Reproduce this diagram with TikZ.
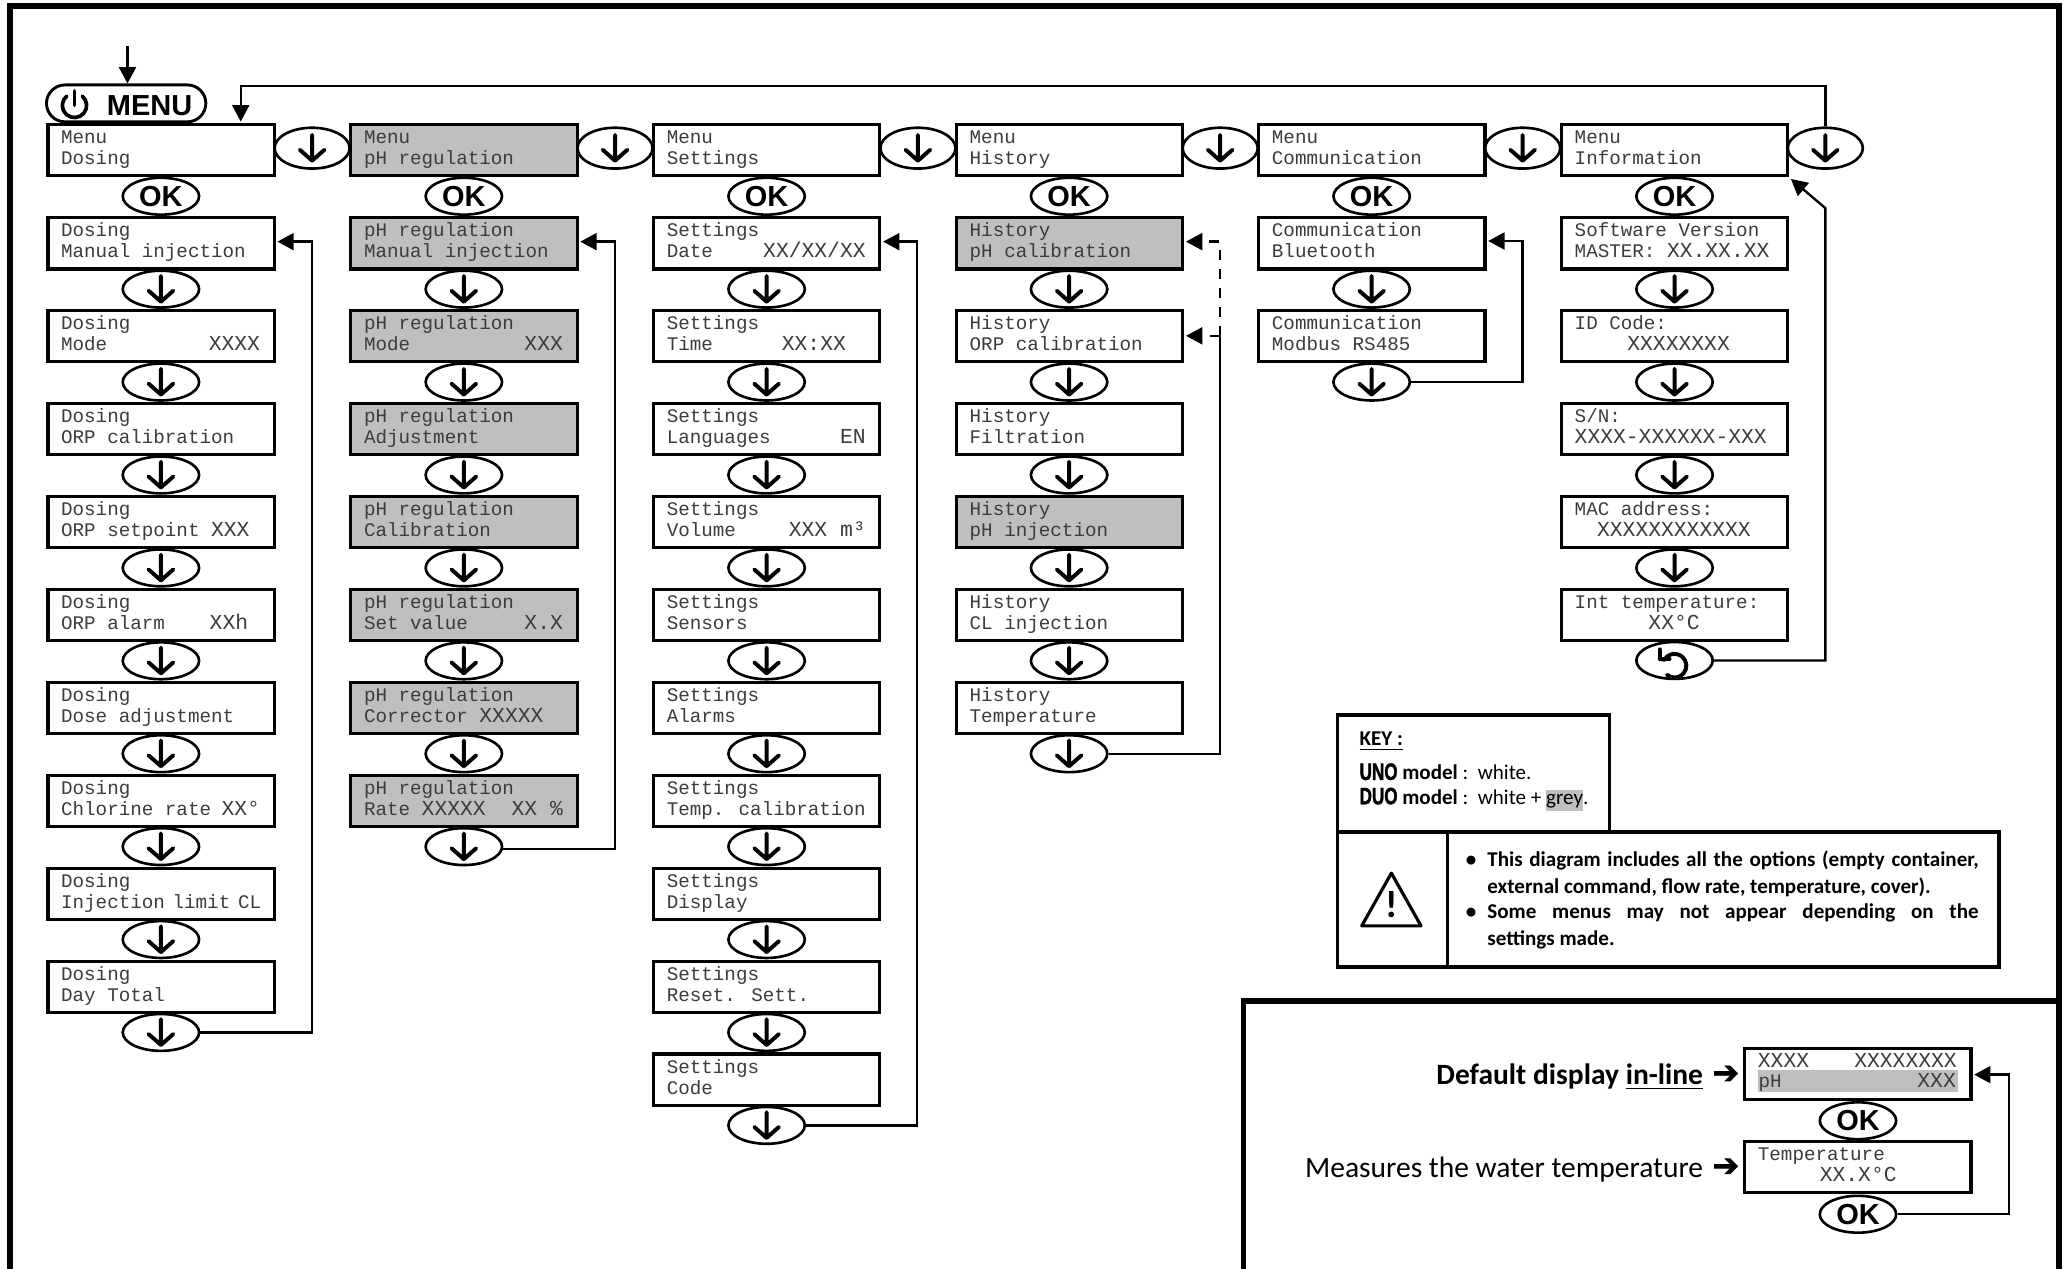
\documentclass[tikz,border=0pt]{standalone}
\usepackage{fontspec}
\usetikzlibrary{shapes.geometric,arrows.meta}
\setmainfont{Carlito}
\newfontfamily\lcdfam{Liberation Mono}
\newfontfamily\sansfam{Liberation Sans}
\newfontfamily\dejafam[FakeBold=2.5]{DejaVu Sans}
\newfontfamily\unofam[FakeStretch=0.72,FakeBold=1.5]{Liberation Sans}
\definecolor{lcdgrey}{HTML}{BFBFBF}
\definecolor{lcdink}{HTML}{3C3C3C}
\newcommand{\lcdfont}{\lcdfam\fontsize{7.3}{8}\selectfont}
\newcommand{\X}[1]{{\fontsize{8.1}{8}\selectfont #1}}
\newcommand{\lcdline}[2]{\hbox to 85.9pt{\rule{0pt}{#1}\hskip5pt\smash{\hbox to 75.5pt{#2\hskip 0pt plus 1fil}}\hfil}}
\newcommand{\lcdtext}[2]{\vbox to 19.4pt{\offinterlineskip\lcdline{7.2pt}{#1}\lcdline{8pt}{#2}\vss}}
\newcommand{\lcdbox}[6][]{\node[lcd,#1] (#2) at (#3-1.2,#4-1.2) {\lcdtext{#5}{#6}};}
\newcommand{\vbtn}[3]{\node[btnv] (#1) at (#2,#3) {};\draw[glyph,shift={(#2,#3)}] (0,-10) -- (0,9.5) (-9.4,1.2) -- (0,9.5) -- (9.4,1.2);}
\newcommand{\hbtn}[3]{\node[btnh] (#1) at (#2,#3) {};\draw[glyph,shift={(#2,#3)}] (0,-10) -- (0,9.5) (-9.4,1.2) -- (0,9.5) -- (9.4,1.2);}
\newcommand{\okbtn}[3]{\node[btnv,font=\sansfam\bfseries\fontsize{11}{11}\selectfont] (#1) at (#2,#3) {OK};}
\newcommand{\colbtns}[3]{\okbtn{#1ok}{#2}{149}\foreach \k in {1,...,#3}{\pgfmathsetmacro{\yy}{149+70.55*\k}\vbtn{#1b\k}{#2}{\yy}}}
\tikzset{
  x=0.5pt,y=-0.5pt,
  lcd/.style={draw=black,fill=white,line width=1.2pt,rectangle,anchor=north west,inner sep=0pt,outer sep=1.2pt,minimum width=85.9pt,minimum height=19.4pt,font=\lcdfont,text=lcdink},
  shade/.style={fill=lcdgrey},
  btnv/.style={draw=black,fill=white,line width=1pt,ellipse,inner sep=0pt,minimum width=29pt,minimum height=14pt},
  btnh/.style={btnv,minimum width=28.5pt,minimum height=15.5pt},
  glyph/.style={line width=1.5pt,line join=round,line cap=round},
  conn/.style={line width=0.9pt,line join=miter},
  tipped/.style={-{Triangle[length=6.2pt,width=6.4pt]}},
  dashline/.style={conn,dash pattern=on 3.8pt off 3.4pt},
  frameline/.style={line width=2.5pt,line join=miter},
  panelline/.style={line width=2pt,line join=miter},
  keybox/.style={draw=black,line width=1.4pt},
  note/.style={anchor=north west,inner sep=0pt,text width=186.5pt,align=justify,font=\bfseries\fontsize{8}{10}\selectfont},
  keytext/.style={anchor=west,inner sep=0pt,font=\fontsize{8}{10}\selectfont},
  bigtext/.style={anchor=east,inner sep=0pt,font=\fontsize{11.2}{13}\selectfont},
  arrowtext/.style={anchor=center,inner sep=0pt,font=\dejafam\fontsize{12}{12}\selectfont}
}
\begin{document}
\begin{tikzpicture}
\useasboundingbox (0,0) rectangle (1568,962.84);
% frame
\draw[frameline] (7.5,970) -- (7.5,4.7) -- (1563.5,4.7) -- (1563.5,970);
\draw[panelline] (944.3,970) -- (944.3,760) -- (1563.5,760);
% MENU
\node[draw=black,line width=1.1pt,rounded corners=7pt,minimum width=60.5pt,minimum height=14pt,inner sep=0pt] (menu) at (95.8,78.5) {};
\node[inner sep=0pt,font=\sansfam\bfseries\fontsize{11}{11}\selectfont] (menutext) at (113.6,80) {MENU};
\draw[line width=1.4pt,line cap=round] (56.6,69) -- (56.6,80);
\draw[line width=1.4pt,line cap=round] (62.5,73) arc[start angle=-50,end angle=230,radius=9.2];
\coordinate (entry) at (96.8,35);
\draw[conn,tipped] (entry) -- (entry |- menu.north);
% column a
\lcdbox{a0}{35.2}{93.5}{Menu}{Dosing}
\lcdbox{a1}{35.2}{164.2}{Dosing}{Manual injection}
\lcdbox{a2}{35.2}{234.75}{Dosing}{Mode\hfill\X{XXXX}}
\lcdbox{a3}{35.2}{305.3}{Dosing}{ORP calibration}
\lcdbox{a4}{35.2}{375.85}{Dosing}{ORP setpoint \X{XXX}}
\lcdbox{a5}{35.2}{446.4}{Dosing}{ORP alarm\hfill\X{XXh}\hspace*{4.5pt}}
\lcdbox{a6}{35.2}{516.95}{Dosing}{Dose adjustment}
\lcdbox{a7}{35.2}{587.5}{Dosing}{Chlorine rate\hfill\X{XX°}}
\lcdbox{a8}{35.2}{658.05}{Dosing}{Injection limit CL}
\lcdbox{a9}{35.2}{728.6}{Dosing}{Day Total}
% column b
\lcdbox[shade]{b0}{265.2}{93.5}{Menu}{pH regulation}
\lcdbox[shade]{b1}{265.2}{164.2}{pH regulation}{Manual injection}
\lcdbox[shade]{b2}{265.2}{234.75}{pH regulation}{Mode\hfill\X{XXX}}
\lcdbox[shade]{b3}{265.2}{305.3}{pH regulation}{Adjustment}
\lcdbox[shade]{b4}{265.2}{375.85}{pH regulation}{Calibration}
\lcdbox[shade]{b5}{265.2}{446.4}{pH regulation}{Set value\hfill\X{X.X}}
\lcdbox[shade]{b6}{265.2}{516.95}{pH regulation}{Corrector \X{XXXXX}}
\lcdbox[shade]{b7}{265.2}{587.5}{pH regulation}{Rate \X{XXXXX}\hfill\X{XX \%}}
% column c
\lcdbox{c0}{495.1}{93.5}{Menu}{Settings}
\lcdbox{c1}{495.1}{164.2}{Settings}{Date\hfill\X{XX/XX/XX}}
\lcdbox{c2}{495.1}{234.75}{Settings}{Time\hfill\X{XX:XX}\hspace*{7.5pt}}
\lcdbox{c3}{495.1}{305.3}{Settings}{Languages\hfill\X{EN}}
\lcdbox{c4}{495.1}{375.85}{Settings}{Volume\hfill\X{XXX m³}}
\lcdbox{c5}{495.1}{446.4}{Settings}{Sensors}
\lcdbox{c6}{495.1}{516.95}{Settings}{Alarms}
\lcdbox{c7}{495.1}{587.5}{Settings}{Temp. calibration}
\lcdbox{c8}{495.1}{658.05}{Settings}{Display}
\lcdbox{c9}{495.1}{728.6}{Settings}{Reset. Sett.}
\lcdbox{c10}{495.1}{799.15}{Settings}{Code}
% column d
\lcdbox{d0}{725.1}{93.5}{Menu}{History}
\lcdbox[shade]{d1}{725.1}{164.2}{History}{pH calibration}
\lcdbox{d2}{725.1}{234.75}{History}{ORP calibration}
\lcdbox{d3}{725.1}{305.3}{History}{Filtration}
\lcdbox[shade]{d4}{725.1}{375.85}{History}{pH injection}
\lcdbox{d5}{725.1}{446.4}{History}{CL injection}
\lcdbox{d6}{725.1}{516.95}{History}{Temperature}
% column e
\lcdbox{e0}{954.6}{93.5}{Menu}{Communication}
\lcdbox{e1}{954.6}{164.2}{Communication}{Bluetooth}
\lcdbox{e2}{954.6}{234.75}{Communication}{Modbus RS485}
% column f
\lcdbox{f0}{1184.5}{93.5}{Menu}{Information}
\lcdbox{f1}{1184.5}{164.2}{Software Version}{MASTER: \X{XX.XX.XX}}
\lcdbox{f2}{1184.5}{234.75}{ID Code:}{\hspace*{20pt}\X{XXXXXXXX}}
\lcdbox{f3}{1184.5}{305.3}{S/N:}{\X{XXXX-XXXXXX-XXX}}
\lcdbox{f4}{1184.5}{375.85}{MAC address:}{\hspace*{8.5pt}\X{XXXXXXXXXXXX}}
\lcdbox{f5}{1184.5}{446.4}{Int temperature:}{\hspace*{28pt}\X{XX°C}}
% buttons below
\colbtns{a}{122.2}{9}
\colbtns{b}{352.2}{7}
\colbtns{c}{582.1}{10}
\colbtns{d}{811.8}{6}
\colbtns{e}{1041.5}{2}
\colbtns{f}{1271.5}{4}
\node[btnv] (fb5) at (1271.5,501.5) {};
\draw[glyph,shift={(1271.5,501.5)}] (-5.8,10.9) arc[start angle=130,end angle=-150,radius=9] -- (-11.4,-1.3);
\draw[glyph,shift={(1271.5,501.5)}] (-11.4,-8.4) -- (-11.4,-1.3) -- (-3.8,-1.3);
% buttons across
\hbtn{h1}{237}{112.5}
\hbtn{h2}{467}{112.5}
\hbtn{h3}{697}{112.5}
\hbtn{h4}{926.5}{112.5}
\hbtn{h5}{1156.2}{112.5}
\hbtn{h6}{1386}{112.5}
% return connectors
\coordinate (ka) at (237,183.5);
\draw[conn,tipped] (ab9.east) -| (ka) -- (a1.east |- ka);
\coordinate (kb) at (467,183.5);
\draw[conn,tipped] ([yshift=-1pt]bb7.east) -| (kb) -- (b1.east |- kb);
\coordinate (kc) at (696.5,183.5);
\draw[conn,tipped] (cb10.east) -| (kc) -- (c1.east |- kc);
\coordinate (kd) at (926.2,255);
\coordinate (kdtop) at (926.2,183.5);
\draw[conn] (db6.east) -| (kd);
\draw[dashline,tipped] (kd) -- (d2.east |- kd);
\draw[dashline,tipped] (kd) -- (kdtop) -- (d1.east |- kdtop);
\coordinate (ke) at (1156,183);
\draw[conn,tipped] (eb2.east) -| (ke) -- (e1.east |- ke);
\coordinate (kf) at (1386,158);
\draw[conn,tipped] (fb5.east) -| (kf) -- (f0.south east);
\coordinate (ktop) at (1386,65.2);
\coordinate (ktopl) at (182.8,65.2);
\draw[conn,tipped] (h6.north) -- (ktop) -- (ktopl) -- (ktopl |- a0.north);
% key
\draw[keybox] (1015.5,543) rectangle (1222,631.5);
\draw[keybox] (1015.5,631.5) rectangle (1518,734);
\draw[keybox] (1099,631.5) -- (1099,734);
\node[keytext] (keyhead) at (1032,563) {\bfseries\underline{KEY :}};
\node[keytext] (keyuno) at (1032,586) {{\unofam\bfseries\fontsize{9}{10}\selectfont UNO} \textbf{model} :\ \ white.};
\node[keytext] (keyduo) at (1032,607) {{\unofam\bfseries\fontsize{9}{10}\selectfont DUO} \textbf{model} :\ \ white + \setlength{\fboxsep}{0pt}\colorbox{lcdgrey}{\rule[-2.6pt]{0pt}{7.9pt}grey}.};
\draw[line width=1.2pt,line join=round] (1056.5,663) -- (1034,703) -- (1079,703) -- cycle;
\node[inner sep=0pt,font=\bfseries\fontsize{14.5}{14}\selectfont] (warn) at (1056.5,687) {!};
\node[note] (note1) at (1129,646) {\llap{\textbullet\hspace{4.2pt}}This diagram includes all the options (empty container,\linebreak external command, flow rate, temperature, cover).};
\node[note] (note2) at (1129,686) {\llap{\textbullet\hspace{4.2pt}}Some menus may not appear depending on the\linebreak settings made.};
% default display
\lcdbox{g0}{1323.6}{795}{\X{XXXX}\hfill\X{XXXXXXXX}}{}
\fill[lcdgrey] (1334.5,812.5) rectangle (1487,829);
\node[inner sep=0pt,anchor=base west,font=\lcdfont,text=lcdink] (g0ph) at (1335,826) {pH};
\node[inner sep=0pt,anchor=base east,font=\lcdfont,text=lcdink] (g0xxx) at (1485.5,826) {\X{XXX}};
\lcdbox{g1}{1323.6}{865.4}{Temperature}{\hspace*{23.5pt}\X{XX.X°C}}
\okbtn{gok0}{1410.8}{851}
\okbtn{gok1}{1410.8}{922}
\coordinate (kg) at (1525.5,816);
\draw[conn,tipped] (gok1.east) -| (kg) -- (g0.east |- kg);
\node[bigtext] (lab0) at (1293.5,817.5) {\bfseries Default display \underline{in-line}};
\node[bigtext] (lab1) at (1293.5,888) {Measures the water temperature};
\node[arrowtext] (arr0) at (1310.5,816) {➔};
\node[arrowtext] (arr1) at (1310.5,886.5) {➔};
\end{tikzpicture}
\end{document}
